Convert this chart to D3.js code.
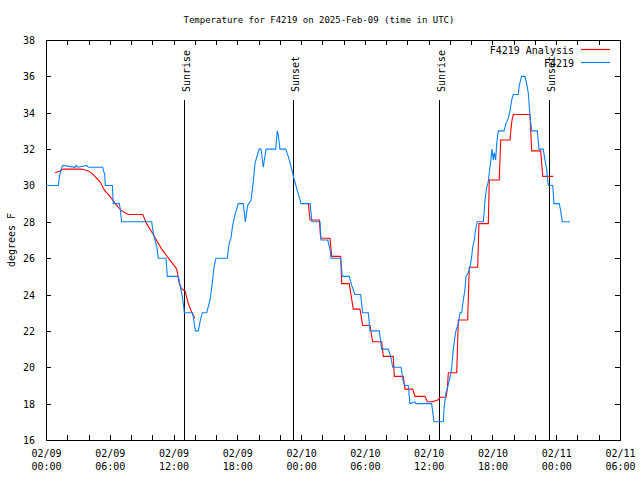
<!DOCTYPE html>
<html><head><meta charset="utf-8">
<script src="https://cdn.jsdelivr.net/npm/d3@7"></script>
<style>
body{margin:0;background:#fff}
svg text{font-family:"DejaVu Sans Mono",monospace;font-size:10px;fill:#000}
</style>
</head><body>
<svg id="chart" width="640" height="480"></svg>
<script>
// ---------- data (hours after 2025-02-09 00:00 UTC, temperature in °F) ----------
const stationHours = [0,1.16,1.27,1.48,1.60,2.73,2.82,3.01,3.83,3.98,5.33,5.52,5.58,6.24,6.33,6.90,6.96,7.12,9.94,10.09,10.25,10.44,10.56,11.29,11.41,12.45,12.61,12.79,12.94,13.01,13.80,13.97,14.06,14.33,14.49,14.70,15.12,15.43,15.64,15.80,15.99,17.06,17.22,17.40,17.56,17.78,18.09,18.56,18.75,18.97,19.29,19.50,19.66,20.04,20.23,20.44,20.70,21.61,21.76,21.85,22.01,22.55,22.79,23.11,23.36,23.61,23.99,24.84,25.02,25.78,25.87,26.50,26.72,26.81,27.72,27.87,28.53,28.76,29.07,29.60,29.79,30.32,30.48,31.35,31.58,32.20,32.43,32.62,33.40,33.61,33.77,34.08,34.24,34.71,34.80,36.28,36.50,37.38,37.44,37.63,37.75,37.94,38.07,38.17,38.32,38.48,38.57,38.79,38.95,39.11,39.26,39.42,39.51,39.73,39.89,40.05,40.14,40.29,40.42,40.57,41.14,41.23,41.30,41.46,41.61,41.70,41.83,41.96,42.08,42.17,42.30,42.40,42.55,43.09,43.27,43.49,43.65,43.81,43.96,44.43,44.52,44.74,45.06,45.22,45.37,45.53,45.69,46.22,46.38,46.78,46.94,47.10,47.25,47.67,47.79,48.29,48.42,48.57,49.29];
const stationTemps = [30.0,30.0,30.5,31.0,31.1,31.0,31.1,31.0,31.1,31.0,31.0,30.6,30.0,30.0,29.0,29.0,28.8,28.0,28.0,27.4,27.0,26.6,26.0,26.0,25.0,25.0,24.5,24.0,23.4,23.0,23.0,22.3,22.0,22.0,22.5,23.0,23.0,23.7,24.6,25.5,26.0,26.0,26.8,27.1,27.8,28.4,29.0,29.0,28.0,28.9,29.2,30.2,31.2,32.0,32.0,31.0,32.0,32.0,33.0,32.8,32.0,32.0,31.6,30.9,30.3,29.8,29.0,29.0,28.0,28.0,27.0,27.0,26.5,26.0,26.0,25.0,25.0,24.5,24.0,24.0,23.0,23.0,22.0,22.0,21.0,21.0,20.6,20.0,20.0,19.2,19.0,19.0,18.0,18.1,18.0,18.0,17.0,17.0,17.7,18.6,18.8,19.3,19.6,20.0,21.0,21.7,22.0,22.4,23.0,23.0,23.7,24.3,25.0,25.2,25.5,26.1,26.6,27.0,27.6,28.0,28.0,28.6,29.2,29.9,30.2,30.7,31.3,32.0,31.4,31.8,31.4,32.3,33.0,33.0,33.4,33.7,34.1,34.7,35.0,35.0,35.5,36.0,36.0,35.6,35.1,33.8,33.0,33.0,32.0,32.0,31.4,30.9,30.0,30.0,29.0,29.0,28.6,28.0,28.0];

// null marks the gap between the two analysis runs
const analysisHours = [0.85,1.32,1.63,3.36,3.98,4.45,5.08,5.55,6.02,6.65,7.12,7.74,9.10,9.47,10.09,10.88,11.51,11.92,12.30,12.54,12.77,13.08,13.39,13.80,14.02,null,24.68,24.84,25.71,25.84,26.72,26.88,27.72,27.82,28.53,28.69,28.91,29.54,29.79,30.48,30.73,31.58,31.73,32.67,32.77,33.61,33.77,34.50,34.71,35.65,35.87,36.38,36.85,37.07,37.63,37.75,37.85,38.64,38.79,39.67,39.82,40.61,40.73,41.61,41.70,42.64,42.78,43.65,43.74,43.84,43.96,45.53,45.69,46.54,46.73,47.72];
const analysisTemps = [30.7,30.8,30.9,30.9,30.8,30.6,30.2,29.7,29.4,28.9,28.6,28.4,28.4,27.9,27.3,26.5,26.0,25.7,25.4,24.6,24.3,24.2,23.5,22.9,22.7,null,29.0,28.1,28.1,27.1,27.1,26.1,26.1,24.6,24.6,24.0,23.2,23.2,22.3,22.3,21.4,21.4,20.6,20.6,19.5,19.5,18.8,18.8,18.4,18.4,18.1,18.1,18.2,18.35,18.35,18.8,19.7,19.7,22.6,22.6,25.5,25.5,27.9,27.9,30.3,30.3,32.5,32.5,33.1,33.6,33.9,33.9,31.9,31.9,30.5,30.5];

const sunEventHours  = [13.02, 23.27, 37.00, 47.32];
const sunEventLabels = ["Sunrise", "Sunset", "Sunrise", "Sunset"];

const yTickValues = [16,18,20,22,24,26,28,30,32,34,36,38];
const seriesNames = ["F4219 Analysis", "F4219"];
const titleText = "Temperature for F4219 on 2025-Feb-09 (time in UTC)";
const yLabelText = "degrees F";

// ---------- layout ----------
const W = 640, H = 480;
const L = 46, R = 620, T = 40, B = 440;
const base = Date.UTC(2025, 1, 9, 0, 0);
const hr = h => new Date(base + h * 3600e3);

const svg = d3.select("#chart");
svg.append("rect").attr("width", W).attr("height", H).attr("fill", "#fff");

const x = d3.scaleUtc().domain([hr(0), hr(54)]).range([L, R]);
const y = d3.scaleLinear().domain([16, 38]).range([B, T]);

const colors = {analysis: "#ff0000", station: "#0a80ff"};

// ---------- axes ----------
const xTicks = d3.range(0, 55, 2).map(hr);
const fmtD = d3.utcFormat("%m/%d"), fmtT = d3.utcFormat("%H:%M");

const gxB = svg.append("g").attr("transform", `translate(0,${B})`)
  .call(d3.axisBottom(x).tickValues(xTicks).tickSize(-5).tickPadding(9)
        .tickFormat(d => d.getUTCHours() % 6 === 0 ? "x" : ""));
gxB.selectAll(".tick text").each(function(d){
  const t = d3.select(this);
  if (d.getUTCHours() % 6 !== 0) { t.remove(); return; }
  t.text(null).attr("y", 0).attr("dy", null);
  t.append("tspan").attr("x", 0).attr("y", 17).text(fmtD(d));
  t.append("tspan").attr("x", 0).attr("y", 30).text(fmtT(d));
});
const gxT = svg.append("g").attr("transform", `translate(0,${T})`)
  .call(d3.axisTop(x).tickValues(xTicks).tickSize(-5).tickFormat(""));

const gyL = svg.append("g").attr("transform", `translate(${L},0)`)
  .call(d3.axisLeft(y).tickValues(yTickValues).tickSize(-5).tickPadding(11).tickFormat(d3.format("d")));
gyL.selectAll(".tick text").attr("dy", "0.35em");
const gyR = svg.append("g").attr("transform", `translate(${R},0)`)
  .call(d3.axisRight(y).tickValues(yTickValues).tickSize(-5).tickFormat(""));

[gxB, gxT, gyL, gyR].forEach(g => {
  g.select(".domain").remove();
  g.selectAll("line").attr("stroke", "#000").attr("shape-rendering", "crispEdges");
  g.selectAll("text").attr("font-family", null).attr("font-size", null).attr("fill", "#000");
  g.attr("font-family", null).attr("font-size", null);
});

// frame
svg.append("rect").attr("x", L).attr("y", T).attr("width", R - L).attr("height", B - T)
  .attr("fill", "none").attr("stroke", "#000").attr("shape-rendering", "crispEdges");

// ---------- sunrise / sunset ----------
const sunTop = T + 0.15 * (B - T);
sunEventHours.forEach((h, i) => {
  const sx = Math.round(x(hr(h))) + 0.5;
  svg.append("line").attr("x1", sx).attr("x2", sx).attr("y1", sunTop).attr("y2", B)
    .attr("stroke", "#000").attr("stroke-width", 1).attr("shape-rendering", "crispEdges");
  svg.append("text").attr("transform", `translate(${sx + 5},${sunTop - 8}) rotate(-90)`)
    .attr("text-anchor", "start").text(sunEventLabels[i]);
});

// ---------- series ----------
const analysis = analysisHours.map((h, i) => ({h, v: analysisTemps[i]}));
const station = stationHours.map((h, i) => ({h, v: stationTemps[i]}));
const line = d3.line().defined(d => d.h !== null && d.v !== null)
  .x(d => x(hr(d.h))).y(d => y(d.v));

svg.append("path").datum(analysis).attr("d", line).attr("fill", "none")
  .attr("stroke", colors.analysis).attr("stroke-width", 1.1);
svg.append("path").datum(station).attr("d", line).attr("fill", "none")
  .attr("stroke", colors.station).attr("stroke-width", 1.1);

// ---------- legend ----------
const legend = svg.append("g");
[colors.analysis, colors.station].forEach((c, i) => {
  const ly = 49.5 + i * 13;
  legend.append("text").attr("x", 574).attr("y", ly + 4).attr("text-anchor", "end").text(seriesNames[i]);
  legend.append("line").attr("x1", 581).attr("x2", 610).attr("y1", ly).attr("y2", ly)
    .attr("stroke", c).attr("stroke-width", 1.2);
});

// ---------- title & axis label ----------
svg.append("text").attr("x", 319).attr("y", 23).attr("text-anchor", "middle")
  .style("font-size", "9px").text(titleText);
svg.append("text").attr("transform", `translate(15,${(T + B) / 2}) rotate(-90)`)
  .attr("text-anchor", "middle").text(yLabelText);
</script>
</body></html>
